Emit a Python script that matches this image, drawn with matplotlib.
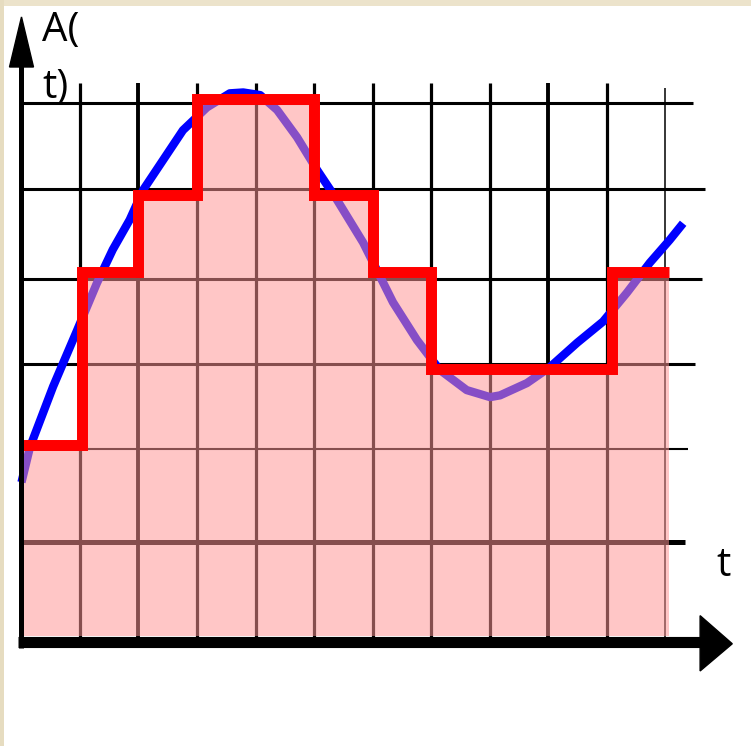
import numpy as np
import matplotlib.pyplot as plt
from matplotlib.patches import Rectangle, Polygon

# Sampled signal A(t) in grid units (x: one column per sample period)
curve_t = [0.0, 0.145, 0.54, 0.95, 1.29, 1.56, 1.85, 2.08, 2.42, 2.76, 3.17, 3.56,
           3.79, 4.08, 4.37, 4.71, 5.05, 5.39, 5.84, 6.35, 6.76, 7.15, 7.61, 8.01,
           8.18, 8.64, 9.03, 9.50, 9.94, 10.35, 10.74, 11.08, 11.31]
curve_a = [1.68, 2.08, 2.77, 3.41, 3.95, 4.33, 4.67, 5.01, 5.35, 5.69, 5.95, 6.11,
           6.12, 6.09, 5.92, 5.61, 5.24, 4.90, 4.41, 3.73, 3.30, 2.96, 2.73, 2.65,
           2.67, 2.81, 2.99, 3.27, 3.51, 3.84, 4.18, 4.44, 4.63]

# Held (quantised) values and the edges of each hold interval
step_edges = [0.0, 1.03, 2.0, 3.0, 5.0, 6.0, 7.0, 10.09, 11.07]
step_levels = [2.105, 4.07, 4.95, 6.04, 4.95, 4.07, 2.97, 4.075]

# Grid lines
grid_x = [1, 2, 3, 4, 5, 6, 7, 8, 9, 10, 11]
grid_x_lw = [2.3, 2.8, 2.3, 2.3, 2.3, 2.3, 2.3, 2.3, 2.8, 2.3, 1.1]
grid_y = [1.0, 2.059, 3.027, 4.001, 5.026, 6.0]
grid_y_end = [11.34, 11.39, 11.52, 11.63, 11.68, 11.48]
grid_y_lw = [3.6, 1.5, 2.2, 2.2, 2.2, 2.2]

AXIS_Y = -0.139
PINK = (1.0, 0.585, 0.585)

fig = plt.figure(figsize=(7.51, 7.46), dpi=100)
fig.patch.set_facecolor('white')
ax = fig.add_axes([0, 0, 1, 1])
ax.set_xlim(-0.3675, 12.47)
ax.set_ylim(-1.3235, 7.173)
ax.axis('off')

# grid
for x, lw in zip(grid_x, grid_x_lw):
    top = 6.23 if x < 11 else 6.17
    ax.plot([x, x], [AXIS_Y, top], color='black', lw=lw, zorder=1,
            solid_capstyle='butt')
for y, end, lw in zip(grid_y, grid_y_end, grid_y_lw):
    ax.plot([0, end], [y, y], color='black', lw=lw, zorder=1,
            solid_capstyle='butt')

# continuous signal
ax.plot(curve_t, curve_a, color='#0000ff', lw=6.0, zorder=2,
        solid_capstyle='butt', solid_joinstyle='round')

# area under the held signal
fill_y = step_levels + [step_levels[-1]]
ax.fill_between(step_edges, AXIS_Y + 0.07, fill_y, step='post',
                color=PINK, alpha=0.53, lw=0, zorder=3)

# sample-and-hold staircase
ax.plot(step_edges, fill_y, drawstyle='steps-post', color='#ff0000', lw=7.9,
        zorder=4, solid_joinstyle='miter', solid_capstyle='butt')

# axes with arrow heads
ax.plot([0, 0], [-0.207, 6.45], color='black', lw=3.6, zorder=5,
        solid_capstyle='butt')
ax.add_patch(Polygon([[-0.205, 6.41], [0.205, 6.41], [0, 6.98]],
                     closed=True, color='black', zorder=5))
ax.plot([-0.06, 11.62], [AXIS_Y, AXIS_Y], color='black', lw=8.0, zorder=5,
        solid_capstyle='butt')
ax.add_patch(Polygon([[11.6, AXIS_Y + 0.3], [11.6, AXIS_Y - 0.33], [12.15, AXIS_Y - 0.02]],
                     closed=True, color='black', zorder=5))

# labels
font = dict(family=['Open Sans', 'DejaVu Sans'], fontsize=29, color='black')
ax.text(0.35, 6.706, 'A(', ha='left', va='baseline', zorder=6, **font)
ax.text(0.35, 6.06, 't)', ha='left', va='baseline', zorder=6, **font)
ax.text(11.87, 0.613, 't', ha='left', va='baseline', zorder=6, **font)

# beige frame strips along the top and left edges
fig.add_artist(Rectangle((0, 1 - 6 / 746), 1, 6 / 746, transform=fig.transFigure,
                         color='#ece3cb', lw=0, zorder=10))
fig.add_artist(Rectangle((0, 0), 4 / 751, 1, transform=fig.transFigure,
                         color='#e6dcc0', lw=0, zorder=10))

fig.savefig('out.png', dpi=100)
